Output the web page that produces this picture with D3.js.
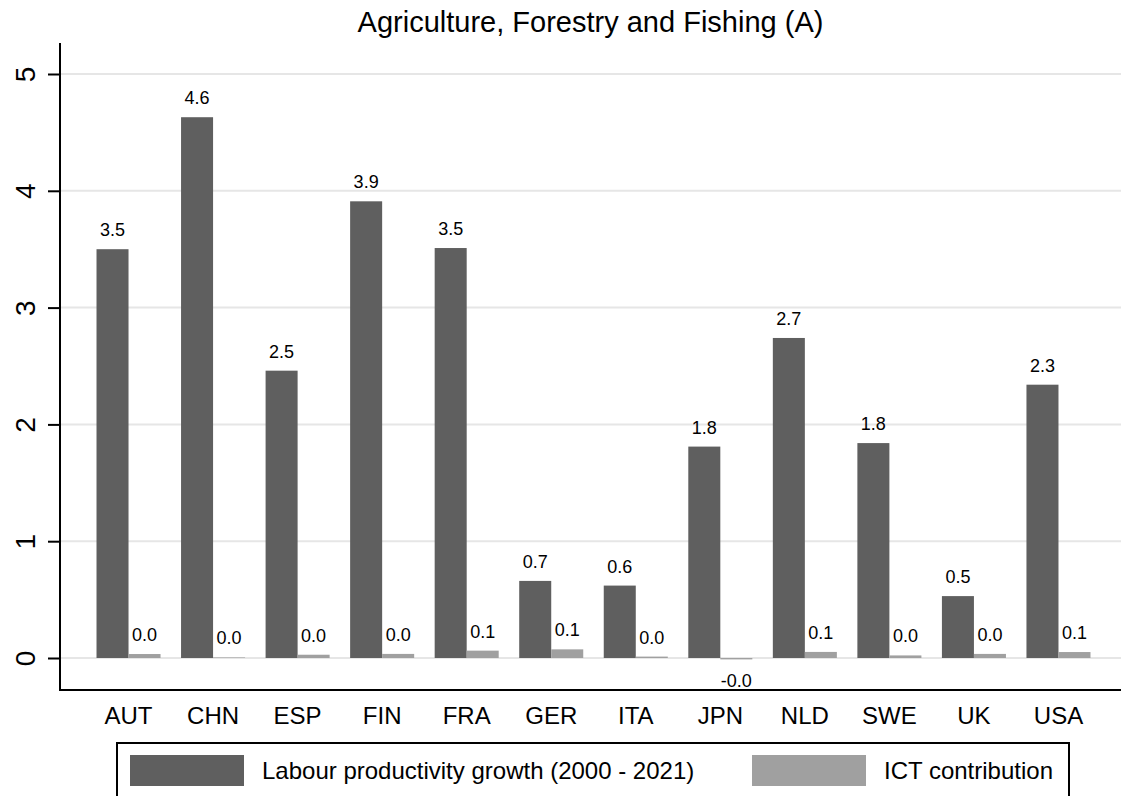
<!DOCTYPE html>
<html>
<head>
<meta charset="utf-8">
<script src="https://cdn.jsdelivr.net/npm/d3@7"></script>
<style>
    body { margin: 0; background: #ffffff; }
    .barChart text { font-family: "Liberation Sans", Arial, sans-serif; fill: #000000; }
</style>
</head>
<body>
<svg class="barChart"></svg>
<script>
// values
const countries = ["AUT", "CHN", "ESP", "FIN", "FRA", "GER", "ITA", "JPN", "NLD", "SWE", "UK", "USA"];
const labourGrowth = [3.50, 4.63, 2.46, 3.91, 3.51, 0.66, 0.62, 1.81, 2.74, 1.84, 0.53, 2.34];
const ictContribution = [0.034, 0.005, 0.028, 0.035, 0.063, 0.074, 0.012, -0.012, 0.052, 0.022, 0.035, 0.051];
const seriesNames = ["Labour productivity growth (2000 - 2021)", "ICT contribution"];
const yTicks = [0, 1, 2, 3, 4, 5];
const chartTitle = "Agriculture, Forestry and Fishing (A)";

class BarChart{

    constructor(){
        this.width = 1121;
        this.height = 796;
        this.plot = {left: 60, right: 1121, top: 43, bottom: 690};
        this.colors = ["#5f5f5f", "#a0a0a0"];
    }

    draw(){
        let svg = d3.select(".barChart")
            .attr("width", this.width)
            .attr("height", this.height);

        // table of country / series / value built from the arrays
        let rows = countries.map((c, i) => ({
            country: c,
            values: [labourGrowth[i], ictContribution[i]]
        }));

        const x = d3.scaleBand()
            .domain(countries)
            .range([this.plot.left + 16, this.plot.right - 10])
            .paddingInner(0.2426)
            .paddingOuter(0.2426);

        const xSub = d3.scaleBand()
            .domain([0, 1])
            .range([0, x.bandwidth()]);

        const y = d3.scaleLinear()
            .domain([0, 5])
            .range([658, 74]);

        // gridlines
        svg.append("g")
            .selectAll("line")
            .data(yTicks)
            .join("line")
            .attr("x1", this.plot.left)
            .attr("x2", this.plot.right)
            .attr("y1", d => y(d))
            .attr("y2", d => y(d))
            .attr("stroke", "#e6e6e6")
            .attr("stroke-width", 2);

        // bars
        let groups = svg.append("g")
            .selectAll("g")
            .data(rows)
            .join("g")
            .attr("transform", d => `translate(${x(d.country)},0)`);

        groups.selectAll("rect")
            .data(d => d.values.map((v, k) => ({k: k, v: v})))
            .join("rect")
            .attr("x", d => xSub(d.k))
            .attr("width", xSub.bandwidth())
            .attr("y", d => y(Math.max(0, d.v)))
            .attr("height", d => Math.abs(y(d.v) - y(0)))
            .attr("fill", d => this.colors[d.k]);

        // value labels, above for positive and below for negative
        groups.selectAll("text")
            .data(d => d.values.map((v, k) => ({k: k, v: v})))
            .join("text")
            .attr("x", d => xSub(d.k) + xSub.bandwidth() / 2)
            .attr("y", d => d.v >= 0 ? y(d.v) - 13 : y(d.v) + 28)
            .attr("text-anchor", "middle")
            .style("font-size", "18px")
            .text(d => d.v.toFixed(1));

        // y axis
        let yAxis = svg.append("g")
            .attr("transform", `translate(${this.plot.left},0)`)
            .call(d3.axisLeft(y).tickValues(yTicks).tickFormat(d3.format("d")).tickSize(12).tickPadding(13));
        yAxis.select(".domain").remove();
        yAxis.selectAll(".tick line").attr("stroke", "#000").attr("stroke-width", 2);
        yAxis.selectAll(".tick text")
            .attr("x", null).attr("dy", null)
            .attr("transform", "translate(-25,0) rotate(-90)")
            .attr("text-anchor", "middle")
            .style("font-size", "28px");

        // frame lines on the left and bottom
        svg.append("line")
            .attr("x1", this.plot.left).attr("x2", this.plot.left)
            .attr("y1", this.plot.top).attr("y2", this.plot.bottom + 1)
            .attr("stroke", "#000").attr("stroke-width", 2);
        svg.append("line")
            .attr("x1", this.plot.left - 1).attr("x2", this.plot.right)
            .attr("y1", this.plot.bottom).attr("y2", this.plot.bottom)
            .attr("stroke", "#000").attr("stroke-width", 2);

        // x labels
        let xAxis = svg.append("g")
            .attr("transform", `translate(0,${this.plot.bottom})`)
            .call(d3.axisBottom(x).tickSize(0).tickPadding(0));
        xAxis.select(".domain").remove();
        xAxis.selectAll(".tick text")
            .attr("y", 34).attr("dy", null)
            .style("font-size", "24px");

        // title
        svg.append("text")
            .attr("x", (this.plot.left + this.plot.right) / 2)
            .attr("y", 32)
            .attr("text-anchor", "middle")
            .style("font-size", "29px")
            .text(chartTitle);

        this.drawLegend(svg);
    }

    drawLegend(svg){
        let legend = svg.append("g");
        legend.append("rect")
            .attr("x", 117).attr("y", 743)
            .attr("width", 952).attr("height", 70)
            .attr("fill", "#ffffff")
            .attr("stroke", "#000").attr("stroke-width", 2);

        let swatchX = [130, 752];
        let items = legend.selectAll("g")
            .data(seriesNames)
            .join("g")
            .attr("transform", (d, i) => `translate(${swatchX[i]},755)`);

        items.append("rect")
            .attr("width", 114).attr("height", 31)
            .attr("fill", (d, i) => this.colors[i]);

        items.append("text")
            .attr("x", 132).attr("y", 24)
            .style("font-size", "24px")
            .text(d => d);
    }
}

let chart = new BarChart();
chart.draw();
</script>
</body>
</html>
